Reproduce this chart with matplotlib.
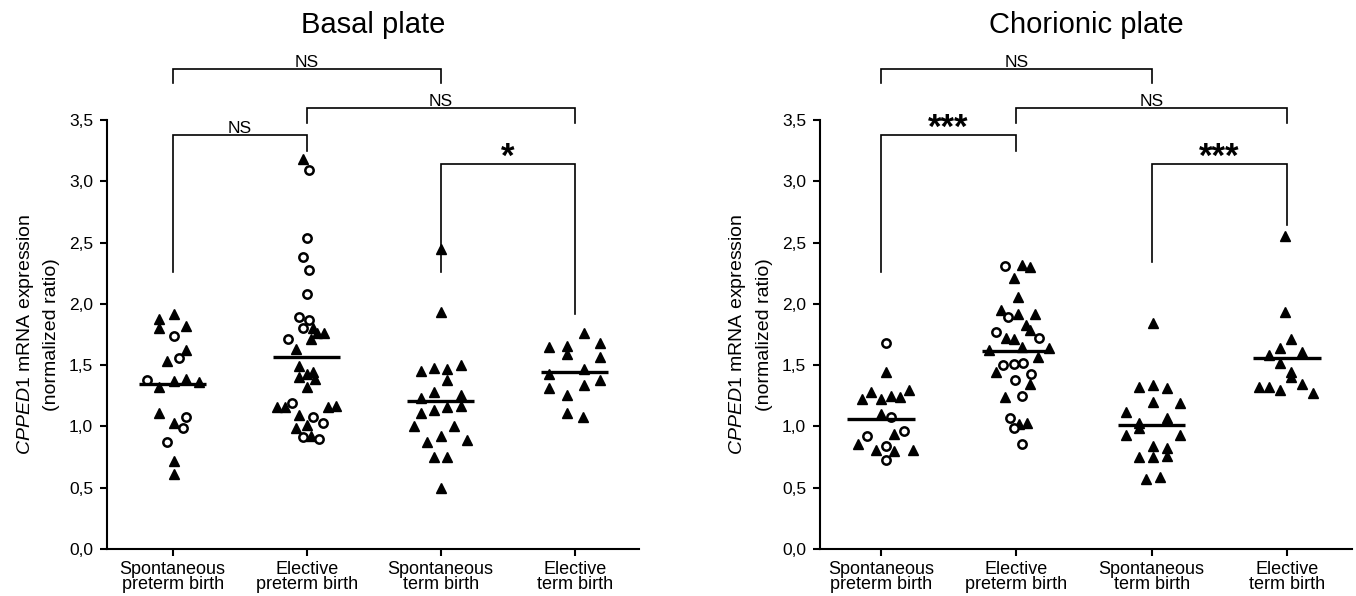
import matplotlib
matplotlib.use("Agg")
import matplotlib.pyplot as plt
from matplotlib.ticker import FuncFormatter

plt.rcParams['font.family'] = ['Liberation Sans', 'DejaVu Sans']
plt.rcParams['mathtext.fontset'] = 'custom'
plt.rcParams['mathtext.rm'] = 'Liberation Sans'
plt.rcParams['mathtext.it'] = 'Liberation Sans:italic'

# ---------------- data ----------------
categories = ["Spontaneous\npreterm birth", "Elective\npreterm birth",
              "Spontaneous\nterm birth", "Elective\nterm birth"]
yticks = [0.0, 0.5, 1.0, 1.5, 2.0, 2.5, 3.0, 3.5]
titles = ["Basal plate", "Chorionic plate"]

# Basal plate
bp_sp_tri_vals = [1.92, 1.88, 1.80, 1.82, 1.62, 1.53, 1.37, 1.39, 1.36, 1.32, 1.11, 1.03, 0.72, 0.61]
bp_sp_tri_jit = [0.01, -0.10, -0.10, 0.10, 0.10, -0.045, 0.01, 0.10, 0.20, -0.10, -0.10, 0.01, 0.01, 0.01]
bp_sp_circ_vals = [1.74, 1.56, 1.38, 1.08, 0.99, 0.87]
bp_sp_circ_jit = [0.01, 0.05, -0.19, 0.10, 0.075, -0.045]

bp_ep_tri_vals = [3.18, 1.80, 1.76, 1.76, 1.71, 1.63, 1.49, 1.40, 1.43, 1.44, 1.39, 1.32,
                  1.16, 1.16, 1.16, 1.17, 1.09, 0.99, 1.01, 0.92]
bp_ep_tri_jit = [-0.03, 0.05, 0.08, 0.13, 0.03, -0.08, -0.06, -0.06, 0.0, 0.05, 0.06, 0.0,
                 -0.22, -0.16, 0.16, 0.22, -0.06, -0.08, 0.0, 0.03]
bp_ep_circ_vals = [3.09, 2.54, 2.38, 2.28, 2.08, 1.89, 1.87, 1.80, 1.71, 1.19, 1.08, 1.03, 0.91, 0.90]
bp_ep_circ_jit = [0.02, 0.0, -0.03, 0.02, 0.0, -0.06, 0.015, -0.03, -0.14, -0.11, 0.045, 0.12, -0.03, 0.09]

bp_st_tri_vals = [2.45, 1.93, 1.45, 1.48, 1.47, 1.50, 1.38, 1.28, 1.26, 1.23, 1.13, 1.16, 1.17,
                  1.11, 1.00, 1.00, 0.92, 0.87, 0.89, 0.75, 0.75, 0.50]
bp_st_tri_jit = [0, 0, -0.15, -0.05, 0.05, 0.15, 0.05, -0.05, 0.15, -0.15, -0.05, 0.05, 0.15,
                 -0.15, -0.20, 0.10, 0, -0.10, 0.20, -0.05, 0.05, 0]
bp_st_circ_vals = []
bp_st_circ_jit = []

bp_et_tri_vals = [1.76, 1.65, 1.66, 1.68, 1.59, 1.57, 1.47, 1.43, 1.38, 1.34, 1.31, 1.26, 1.11, 1.08]
bp_et_tri_jit = [0.07, -0.19, -0.06, 0.19, -0.06, 0.19, 0.07, -0.19, 0.19, 0.07, -0.19, -0.06, -0.06, 0.06]
bp_et_circ_vals = []
bp_et_circ_jit = []

bp_means = [1.345, 1.57, 1.21, 1.44]

# Chorionic plate
cp_sp_tri_vals = [1.44, 1.28, 1.22, 1.22, 1.25, 1.24, 1.30, 1.10, 0.94, 0.86, 0.81, 0.80, 0.81]
cp_sp_tri_jit = [0.04, -0.07, -0.14, 0.0, 0.075, 0.14, 0.21, 0.0, 0.10, -0.17, -0.04, 0.10, 0.24]
cp_sp_circ_vals = [1.68, 1.08, 0.96, 0.92, 0.84, 0.73]
cp_sp_circ_jit = [0.04, 0.075, 0.17, -0.10, 0.04, 0.04]

cp_ep_tri_vals = [2.32, 2.30, 2.21, 2.06, 1.95, 1.92, 1.92, 1.83, 1.79, 1.72, 1.71, 1.62, 1.65,
                  1.64, 1.57, 1.44, 1.35, 1.24, 1.02, 1.03]
cp_ep_tri_jit = [0.045, 0.10, -0.015, 0.015, -0.11, 0.015, 0.14, 0.075, 0.10, -0.075, -0.015, -0.20,
                 0.045, 0.24, 0.16, -0.15, 0.10, -0.08, 0.02, 0.08]
cp_ep_circ_vals = [2.31, 1.89, 1.77, 1.72, 1.50, 1.51, 1.52, 1.43, 1.38, 1.25, 1.07, 0.99, 0.86]
cp_ep_circ_jit = [-0.08, -0.06, -0.15, 0.17, -0.10, -0.02, 0.05, 0.11, -0.01, 0.045, -0.05, -0.02, 0.04]

cp_st_tri_vals = [1.84, 1.32, 1.34, 1.31, 1.20, 1.19, 1.12, 1.07, 1.03, 0.99, 0.93, 0.93, 0.84,
                  0.82, 0.75, 0.75, 0.76, 0.57, 0.59]
cp_st_tri_jit = [0.01, -0.09, 0.01, 0.11, 0.01, 0.21, -0.19, 0.11, -0.09, -0.09, -0.19, 0.21, 0.01,
                 0.11, -0.09, 0.01, 0.11, -0.045, 0.06]
cp_st_circ_vals = []
cp_st_circ_jit = []

cp_et_tri_vals = [2.55, 1.93, 1.71, 1.64, 1.61, 1.58, 1.52, 1.44, 1.40, 1.32, 1.32, 1.30, 1.35, 1.27]
cp_et_tri_jit = [-0.015, -0.015, 0.03, -0.05, 0.11, -0.13, -0.05, 0.03, 0.03, -0.21, -0.13, -0.05, 0.11, 0.19]
cp_et_circ_vals = []
cp_et_circ_jit = []

cp_means = [1.06, 1.615, 1.01, 1.56]

# significance brackets: (x1, x2, y, left leg end, right leg end, label)
bp_brackets = [(0, 2, 3.915, 3.80, 3.80, "NS"),
               (1, 3, 3.597, 3.475, 3.475, "NS"),
               (0, 1, 3.377, 2.26, 3.25, "NS"),
               (2, 3, 3.14, 2.26, 1.92, "*")]
cp_brackets = [(0, 2, 3.915, 3.80, 3.80, "NS"),
               (1, 3, 3.597, 3.475, 3.475, "NS"),
               (0, 1, 3.377, 2.26, 3.25, "***"),
               (2, 3, 3.14, 2.34, 2.64, "***")]

basal_groups = [(bp_sp_tri_vals, bp_sp_tri_jit, bp_sp_circ_vals, bp_sp_circ_jit),
                (bp_ep_tri_vals, bp_ep_tri_jit, bp_ep_circ_vals, bp_ep_circ_jit),
                (bp_st_tri_vals, bp_st_tri_jit, bp_st_circ_vals, bp_st_circ_jit),
                (bp_et_tri_vals, bp_et_tri_jit, bp_et_circ_vals, bp_et_circ_jit)]
chor_groups = [(cp_sp_tri_vals, cp_sp_tri_jit, cp_sp_circ_vals, cp_sp_circ_jit),
               (cp_ep_tri_vals, cp_ep_tri_jit, cp_ep_circ_vals, cp_ep_circ_jit),
               (cp_st_tri_vals, cp_st_tri_jit, cp_st_circ_vals, cp_st_circ_jit),
               (cp_et_tri_vals, cp_et_tri_jit, cp_et_circ_vals, cp_et_circ_jit)]

# ---------------- figure ----------------
W, H = 1356, 596
fig = plt.figure(figsize=(W / 100, H / 100), dpi=100)

ax_w = 532 / W
ax_h = 429 / H
ax_b = 47 / H
axes_specs = [
    (107 / W, (-0.49, 3.48), basal_groups, bp_means, bp_brackets, titles[0]),
    (820 / W, (-0.45, 3.48), chor_groups, cp_means, cp_brackets, titles[1]),
]

fmt = FuncFormatter(lambda v, p: f"{v:.1f}".replace(".", ","))

for left, xlim, groups, means, brackets, title in axes_specs:
    ax = fig.add_axes([left, ax_b, ax_w, ax_h])
    ax.set_xlim(*xlim)
    ax.set_ylim(0, 3.5)
    for s in ["top", "right"]:
        ax.spines[s].set_visible(False)
    for s in ["left", "bottom"]:
        ax.spines[s].set_linewidth(1.5)

    for i, (tv, tj, cv, cj) in enumerate(groups):
        if tv:
            ax.plot([i + j for j in tj], tv, linestyle="none", marker="^",
                    markersize=7, color="black", clip_on=False, zorder=3)
        if cv:
            ax.plot([i + j for j in cj], cv, linestyle="none", marker="o",
                    markersize=6, markerfacecolor="white", markeredgecolor="black",
                    markeredgewidth=1.8, clip_on=False, zorder=3)
        ax.plot([i - 0.25, i + 0.25], [means[i], means[i]], color="black",
                linewidth=2.4, solid_capstyle="butt", zorder=4)

    ax.set_xticks(range(len(categories)))
    ax.set_xticklabels(categories, fontsize=13, linespacing=0.78)
    ax.set_yticks(yticks)
    ax.yaxis.set_major_formatter(fmt)
    ax.tick_params(axis="y", labelsize=12.5, length=5, width=1.5, pad=5)
    ax.tick_params(axis="x", length=5, width=1.5, pad=4)

    for x1, x2, y, yl, yr, lab in brackets:
        ax.plot([x1, x1, x2, x2], [yl, y, y, yr], color="black", linewidth=1.2,
                clip_on=False, solid_joinstyle="miter")
        xm = (x1 + x2) / 2
        if lab == "NS":
            ax.text(xm, y + 0.02, lab, ha="center", va="baseline", fontsize=12.5)
        else:
            ax.text(xm, y - 0.025, lab, ha="center", va="baseline", fontsize=25,
                    fontweight="bold")

    # title
    cx = left + ax_w / 2
    fig.text(cx, 1 - 25 / H, title, ha="center", va="center", fontsize=21)

    # y label (two lines)
    yc = ax_b + ax_h / 2
    fig.text(left - 82 / W, yc, r"$\mathit{CPPED1}$ mRNA expression", rotation=90,
             ha="center", va="center", fontsize=14)
    fig.text(left - 55 / W, yc, "(normalized ratio)", rotation=90,
             ha="center", va="center", fontsize=14)

fig.savefig("out.png", dpi=100)
